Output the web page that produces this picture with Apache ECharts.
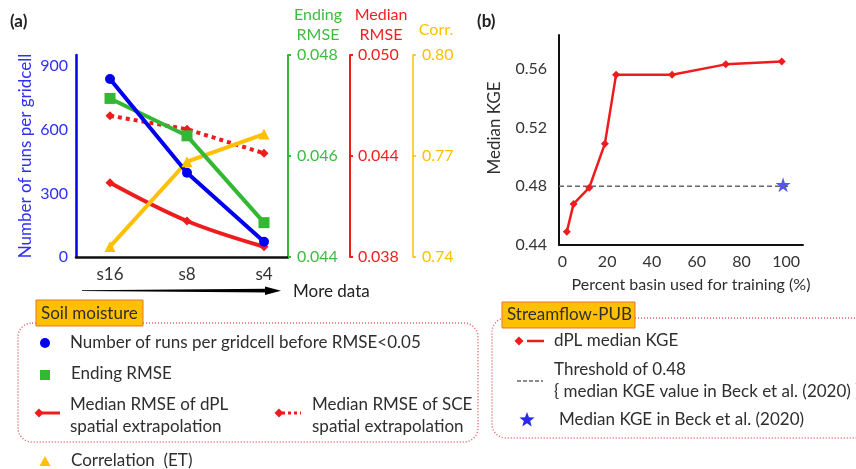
<!DOCTYPE html>
<html><head><meta charset="utf-8">
<script src="https://cdn.jsdelivr.net/npm/echarts@6/dist/echarts.min.js"></script>
<style>html,body{margin:0;padding:0;background:#fff}#c{width:856px;height:469px}</style>
</head><body><div id="c"></div>
<script>
// ---------- Panel (a) data ----------
const categoriesA = ['s16', 's8', 's4'];
const runsPerGridcell = [839, 397, 72];
const endingRMSE = [0.04714, 0.04640, 0.04468];
const medianRmseDPL = [0.04241, 0.04014, 0.03861];
const medianRmseSCE = [0.04639, 0.04559, 0.04416];
const correlationET = [0.7431, 0.7683, 0.7765];
const runsTicks = [0, 300, 600, 900];
const endingRmseTicks = [0.044, 0.046, 0.048];
const medianRmseTicks = [0.038, 0.044, 0.050];
const corrTicks = [0.74, 0.77, 0.80];

// ---------- Panel (b) data ----------
const percentBasin = [2, 5, 12, 19, 24, 49, 73, 98];
const dplMedianKGE = [0.449, 0.468, 0.479, 0.509, 0.556, 0.556, 0.563, 0.565];
const kgeTicks = [0.44, 0.48, 0.52, 0.56];
const percentTicks = [0, 20, 40, 60, 80, 100];
const beckThreshold = 0.48;
const thresholdRange = [-1.5, 102];
const beckPercent = 98.6;
const beckKGE = 0.481;

const FONT = 'Lato';
const BLUE = '#0000ee', BLUE_T = '#3030f2';
const GREEN = '#33b833', GREEN_T = '#3dbd3d';
const RED = '#ee1c1c', RED_T = '#f02020';
const YEL = '#ffc000';
const TXT = '#2e2e2e';
const STAR = 'path://M50,0 L61.2,34.5 L97.6,34.5 L68.2,55.9 L79.4,90.5 L50,69.1 L20.6,90.5 L31.8,55.9 L2.4,34.5 L38.8,34.5 Z';

const pairs = arr => categoriesA.map((c, i) => [i, arr[i]]);

function txt(x, y, s, opt) {
  opt = opt || {};
  return {
    type: 'text', x: x, y: y, rotation: opt.rot || 0, silent: true,
    style: {
      text: s, fill: opt.color || TXT, fontSize: opt.size || 17, fontFamily: FONT,
      fontWeight: opt.bold ? 'bold' : 'normal',
      textAlign: opt.align || 'left', textVerticalAlign: 'middle'
    }
  };
}
function starPoints(cx, cy, R) {
  const pts = [];
  for (let k = 0; k < 10; k++) {
    const r = k % 2 === 0 ? R : R * 0.42;
    const a = -Math.PI / 2 + k * Math.PI / 5;
    pts.push([cx + r * Math.cos(a), cy + r * Math.sin(a)]);
  }
  return pts;
}
function diamond(cx, cy, h, color) {
  return { type: 'polygon', silent: true, shape: { points: [[cx - h, cy], [cx, cy - h], [cx + h, cy], [cx, cy + h]] }, style: { fill: color } };
}

const graphic = [
  txt(10, 22, '(a)', { bold: true, size: 17, color: '#222' }),
  txt(477, 22, '(b)', { bold: true, size: 17, color: '#222' }),
  // top axis names
  txt(318, 15, 'Ending', { align: 'center', color: GREEN_T, size: 16 }),
  txt(318, 35, 'RMSE', { align: 'center', color: GREEN_T, size: 16 }),
  txt(381, 15, 'Median', { align: 'center', color: RED_T, size: 16 }),
  txt(381, 35, 'RMSE', { align: 'center', color: RED_T, size: 16 }),
  txt(436, 30, 'Corr.', { align: 'center', color: YEL, size: 16 }),
  // "More data" arrow
  { type: 'polygon', silent: true, shape: { points: [[82, 290.3], [268, 288.8], [268, 292.6], [82, 291.1]] }, style: { fill: '#000' } },
  { type: 'polygon', silent: true, shape: { points: [[265, 286.5], [281, 290.7], [265, 295]] }, style: { fill: '#000' } },
  txt(293, 292, 'More data', { size: 17, color: '#222' }),
  // panel (b) axis names
  txt(495, 128, 'Median KGE', { align: 'center', rot: Math.PI / 2, size: 17 }),
  txt(691, 285, 'Percent basin used for training (%)', { align: 'center', size: 16 }),

  // ---- Legend (a) ----
  { type: 'rect', silent: true, shape: { x: 18, y: 323, width: 460, height: 119, r: 14 }, style: { fill: 'none', stroke: '#e06060', lineWidth: 1.5, lineDash: [1, 2] } },
  { type: 'rect', silent: true, shape: { x: 36, y: 300, width: 107, height: 26 }, style: { fill: YEL, stroke: '#e8742c', lineWidth: 1 } },
  txt(41, 314, 'Soil moisture', { size: 17 }),
  { type: 'circle', silent: true, shape: { cx: 45, cy: 343, r: 5 }, style: { fill: BLUE } },
  txt(70, 343, 'Number of runs per gridcell before RMSE<0.05', { size: 17 }),
  { type: 'rect', silent: true, shape: { x: 40, y: 370, width: 10, height: 10 }, style: { fill: GREEN } },
  txt(71, 374, 'Ending RMSE', { size: 17 }),
  { type: 'line', silent: true, shape: { x1: 40, y1: 413, x2: 60, y2: 413 }, style: { stroke: RED, lineWidth: 3 } },
  diamond(39, 413, 4.5, RED),
  txt(70, 405, 'Median RMSE of dPL', { size: 17 }),
  txt(70, 427, 'spatial extrapolation', { size: 17 }),
  { type: 'line', silent: true, shape: { x1: 282, y1: 413, x2: 301, y2: 413 }, style: { stroke: RED, lineWidth: 3, lineDash: [3, 3] } },
  diamond(279, 413, 4.5, RED),
  txt(312, 405, 'Median RMSE of SCE', { size: 17 }),
  txt(312, 427, 'spatial extrapolation', { size: 17 }),
  { type: 'polygon', silent: true, shape: { points: [[45, 456], [50.5, 466], [39.5, 466]] }, style: { fill: YEL } },
  txt(71, 461, 'Correlation  (ET)', { size: 17 }),

  // ---- Legend (b) ----
  { type: 'rect', silent: true, shape: { x: 492, y: 318, width: 380, height: 120, r: 14 }, style: { fill: 'none', stroke: '#e06060', lineWidth: 1.5, lineDash: [1, 2] } },
  { type: 'rect', silent: true, shape: { x: 502, y: 302, width: 133, height: 26 }, style: { fill: YEL, stroke: '#e8742c', lineWidth: 1 } },
  txt(507, 315, 'Streamflow-PUB', { size: 17 }),
  diamond(519, 341, 4.5, RED),
  { type: 'line', silent: true, shape: { x1: 527, y1: 341, x2: 544, y2: 341 }, style: { stroke: RED, lineWidth: 2.5 } },
  txt(554, 341, 'dPL median KGE', { size: 17 }),
  { type: 'line', silent: true, shape: { x1: 517, y1: 381, x2: 543, y2: 381 }, style: { stroke: '#666', lineWidth: 1.3, lineDash: [4, 2] } },
  txt(554, 370, 'Threshold of 0.48', { size: 17 }),
  txt(554, 392, '{ median KGE value in Beck et al. (2020) }', { size: 17 }),
  { type: 'polygon', silent: true, shape: { points: starPoints(527, 420, 8) }, style: { fill: '#2a2aee' } },
  txt(559, 420, 'Median KGE in Beck et al. (2020)', { size: 17 })
];

const numLabel = (color) => ({ color: color, fontSize: 16, fontFamily: FONT });

const option = {
  backgroundColor: '#ffffff',
  animation: false,
  grid: [
    { left: 76, top: 55, width: 212, height: 202, containLabel: false, outerBoundsMode: 'none' },
    { left: 559, top: 35, width: 244, height: 210, containLabel: false, outerBoundsMode: 'none' }
  ],
  xAxis: [
    {
      gridIndex: 0, type: 'value', min: -0.4416, max: 2.3117,
      axisLine: { show: true, onZero: false, lineStyle: { color: '#111', width: 2.5 } },
      axisTick: { show: false }, splitLine: { show: false },
      axisLabel: { customValues: [0, 1, 2], formatter: v => categoriesA[Math.round(v)], color: '#333', fontSize: 17, fontFamily: FONT, margin: 9 }
    },
    {
      gridIndex: 1, type: 'value', min: -1.5, max: 107.5,
      axisLine: { show: true, onZero: false, lineStyle: { color: '#111', width: 2 } },
      axisTick: { show: false }, splitLine: { show: false },
      axisLabel: { customValues: percentTicks, color: '#333', fontSize: 16, fontFamily: FONT, margin: 9 }
    }
  ],
  yAxis: [
    {
      gridIndex: 0, type: 'value', position: 'left', min: 0, max: 952,
      axisLine: { show: true, onZero: false, lineStyle: { color: BLUE, width: 2.5 } },
      axisTick: { show: false }, splitLine: { show: false },
      axisLabel: Object.assign({ customValues: runsTicks, margin: 8 }, numLabel(BLUE_T)),
      name: 'Number of runs per gridcell', nameLocation: 'middle', nameGap: 42, nameRotate: 90,
      nameTextStyle: { color: BLUE_T, fontSize: 17, fontFamily: FONT }
    },
    {
      gridIndex: 0, type: 'value', position: 'right', offset: 0, min: 0.044, max: 0.048,
      axisLine: { show: true, onZero: false, lineStyle: { color: GREEN, width: 2 } },
      axisTick: { show: true, customValues: endingRmseTicks, length: 3, lineStyle: { color: GREEN, width: 2 } },
      splitLine: { show: false },
      axisLabel: Object.assign({ customValues: endingRmseTicks, formatter: v => v.toFixed(3), margin: 9 }, numLabel(GREEN_T))
    },
    {
      gridIndex: 0, type: 'value', position: 'right', offset: 62, min: 0.038, max: 0.050,
      axisLine: { show: true, onZero: false, lineStyle: { color: RED, width: 2 } },
      axisTick: { show: true, customValues: medianRmseTicks, length: 3, lineStyle: { color: RED, width: 2 } },
      splitLine: { show: false },
      axisLabel: Object.assign({ customValues: medianRmseTicks, formatter: v => v.toFixed(3), margin: 8 }, numLabel(RED_T))
    },
    {
      gridIndex: 0, type: 'value', position: 'right', offset: 125, min: 0.74, max: 0.80,
      axisLine: { show: true, onZero: false, lineStyle: { color: YEL, width: 1.5 } },
      axisTick: { show: true, customValues: corrTicks, length: 3, lineStyle: { color: YEL, width: 1.5 } },
      splitLine: { show: false },
      axisLabel: Object.assign({ customValues: corrTicks, formatter: v => v.toFixed(2), margin: 9 }, numLabel(YEL))
    },
    {
      gridIndex: 1, type: 'value', position: 'left', min: 0.44, max: 0.583,
      axisLine: { show: true, onZero: false, lineStyle: { color: '#111', width: 2 } },
      axisTick: { show: false }, splitLine: { show: false },
      axisLabel: { customValues: kgeTicks, formatter: v => v.toFixed(2), color: '#333', fontSize: 16, fontFamily: FONT, margin: 12 }
    }
  ],
  series: [
    {
      name: 'Median RMSE of SCE spatial extrapolation', type: 'line', xAxisIndex: 0, yAxisIndex: 2,
      data: pairs(medianRmseSCE), symbol: 'diamond', symbolSize: 9,
      itemStyle: { color: RED }, lineStyle: { color: RED, width: 4, type: [4, 4] }
    },
    {
      name: 'Median RMSE of dPL spatial extrapolation', type: 'line', xAxisIndex: 0, yAxisIndex: 2,
      data: pairs(medianRmseDPL), smooth: 0.35, symbol: 'diamond', symbolSize: 9,
      itemStyle: { color: RED }, lineStyle: { color: RED, width: 4 }
    },
    {
      name: 'Correlation (ET)', type: 'line', xAxisIndex: 0, yAxisIndex: 3,
      data: pairs(correlationET), symbol: 'triangle', symbolSize: 11,
      itemStyle: { color: YEL }, lineStyle: { color: YEL, width: 4 }
    },
    {
      name: 'Ending RMSE', type: 'line', xAxisIndex: 0, yAxisIndex: 1,
      data: pairs(endingRMSE), symbol: 'rect', symbolSize: 11,
      itemStyle: { color: GREEN }, lineStyle: { color: GREEN, width: 4 }
    },
    {
      name: 'Number of runs per gridcell before RMSE<0.05', type: 'line', xAxisIndex: 0, yAxisIndex: 0,
      data: pairs(runsPerGridcell), symbol: 'circle', symbolSize: 10,
      itemStyle: { color: BLUE }, lineStyle: { color: BLUE, width: 4 }
    },
    {
      name: 'Threshold of 0.48', type: 'line', xAxisIndex: 1, yAxisIndex: 4,
      data: thresholdRange.map(x => [x, beckThreshold]), symbol: 'none',
      lineStyle: { color: '#666', width: 1.5, type: [5, 3] }
    },
    {
      name: 'dPL median KGE', type: 'line', xAxisIndex: 1, yAxisIndex: 4,
      data: percentBasin.map((p, i) => [p, dplMedianKGE[i]]), symbol: 'diamond', symbolSize: 8,
      itemStyle: { color: RED }, lineStyle: { color: RED, width: 2.5 }
    },
    {
      name: 'Median KGE in Beck et al. (2020)', type: 'scatter', xAxisIndex: 1, yAxisIndex: 4,
      data: [[beckPercent, beckKGE]], symbol: STAR, symbolSize: 15,
      itemStyle: { color: '#2a2aee' }
    }
  ],
  graphic: graphic
};

const chart = echarts.init(document.getElementById('c'), null, { renderer: 'canvas' });
chart.setOption(option);
</script>
</body></html>
